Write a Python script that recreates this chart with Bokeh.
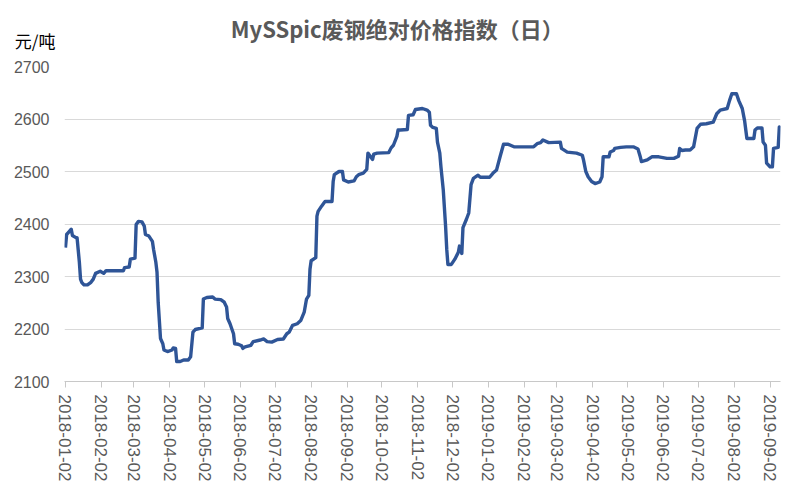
import pandas as pd
from bokeh.plotting import figure
from bokeh.layouts import column
from bokeh.models import Range1d, FixedTicker, DatetimeTickFormatter
from bokeh.core.properties import value
from bokeh.embed import file_html
from bokeh.resources import INLINE

# ---- data ----
start_date = "2018-01-02"
day_offsets = [0, 1, 3, 5, 6, 9, 10, 12, 13, 14, 16, 19, 22, 24, 26, 30, 33, 35, 42, 50,
               51, 55, 56, 60, 61, 63, 66, 68, 69, 72, 75, 76, 78, 79, 80, 82, 84, 85, 88, 92,
               93, 95, 96, 99, 102, 106, 108, 110, 112, 118, 119, 122, 127, 129, 134, 137, 139, 140, 142, 145,
               146, 149, 152, 153, 155, 160, 162, 168, 171, 174, 178, 183, 188, 191, 193, 196, 200, 203, 206, 208,
               210, 211, 212, 216, 217, 218, 221, 223, 224, 230, 231, 232, 236, 239, 240, 244, 249, 251, 253, 257,
               260, 261, 263, 265, 266, 269, 279, 281, 283, 286, 287, 289, 295, 296, 300, 302, 308, 312, 314, 315,
               317, 320, 321, 323, 324, 326, 328, 329, 330, 333, 336, 339, 340, 342, 343, 346, 348, 350, 352, 356,
               358, 366, 369, 372, 375, 378, 382, 387, 404, 407, 410, 412, 417, 427, 428, 433, 441, 446, 447, 449,
               451, 454, 457, 461, 463, 464, 469, 470, 473, 474, 479, 484, 490, 494, 496, 497, 502, 506, 512, 519,
               525, 529, 530, 532, 535, 539, 542, 545, 548, 553, 559, 562, 565, 571, 573, 575, 579, 581, 584, 586,
               588, 594, 595, 597, 601, 602, 604, 605, 608, 610, 611, 615, 616, 617]
price = [2355, 2380, 2385, 2390, 2378, 2374, 2374, 2327, 2295, 2289, 2284, 2284, 2289, 2295, 2306, 2310, 2306, 2311, 2311, 2311,
         2317, 2318, 2333, 2335, 2399, 2405, 2404, 2396, 2380, 2377, 2367, 2352, 2327, 2308, 2251, 2182, 2172, 2160, 2157, 2160,
         2164, 2163, 2138, 2138, 2141, 2141, 2147, 2194, 2199, 2202, 2257, 2260, 2261, 2257, 2256, 2251, 2242, 2220, 2210, 2191,
         2172, 2171, 2168, 2163, 2166, 2169, 2176, 2179, 2181, 2176, 2175, 2180, 2181, 2191, 2194, 2207, 2210, 2216, 2232, 2257,
         2264, 2314, 2330, 2336, 2415, 2424, 2434, 2440, 2443, 2443, 2481, 2494, 2500, 2500, 2484, 2480, 2482, 2490, 2494, 2497,
         2504, 2535, 2529, 2523, 2533, 2535, 2536, 2545, 2550, 2567, 2579, 2579, 2580, 2607, 2608, 2618, 2620, 2617, 2613, 2588,
         2584, 2582, 2556, 2535, 2509, 2465, 2396, 2352, 2323, 2323, 2333, 2346, 2358, 2344, 2393, 2409, 2421, 2475, 2487, 2493,
         2489, 2489, 2497, 2503, 2528, 2552, 2552, 2547, 2547, 2553, 2555, 2560, 2555, 2556, 2544, 2537, 2535, 2531, 2522, 2500,
         2490, 2481, 2477, 2480, 2490, 2528, 2528, 2537, 2540, 2544, 2546, 2547, 2547, 2543, 2528, 2519, 2522, 2528, 2528, 2525,
         2525, 2529, 2544, 2540, 2541, 2541, 2547, 2582, 2590, 2591, 2594, 2610, 2617, 2620, 2635, 2648, 2648, 2635, 2620, 2597,
         2563, 2563, 2579, 2583, 2583, 2556, 2550, 2516, 2509, 2509, 2544, 2546, 2585, 2582]

tick_labels = ["2018-01-02", "2018-02-02", "2018-03-02", "2018-04-02", "2018-05-02", "2018-06-02",
               "2018-07-02", "2018-08-02", "2018-09-02", "2018-10-02", "2018-11-02", "2018-12-02",
               "2019-01-02", "2019-02-02", "2019-03-02", "2019-04-02", "2019-05-02", "2019-06-02",
               "2019-07-02", "2019-08-02", "2019-09-02"]
y_ticks = [2100, 2200, 2300, 2400, 2500, 2600, 2700]

title_text = "MySSpic废钢绝对价格指数（日）"
unit_text = "元/吨"

W = 784
HEAD_H = 58
MAIN_H = 426
LEFT, RIGHT = 64, 4

# ---- header: title (text glyph) and unit (left axis label) ----
head = figure(width=W, height=HEAD_H, output_backend="svg", toolbar_location=None, tools="",
              x_range=Range1d(LEFT, W - RIGHT), y_range=Range1d(HEAD_H, 0),
              min_border_left=LEFT, min_border_right=RIGHT, min_border_top=0, min_border_bottom=0,
              x_axis_type=None)
head.outline_line_color = None
head.xgrid.visible = False
head.ygrid.visible = False
head.text(x=[396.7], y=[27.5], text=[title_text], text_align="center", text_baseline="middle",
          text_font=value("Noto Sans CJK SC"), text_font_style="bold",
          text_font_size="22px", text_color="#595959")
ha = head.yaxis[0]
ha.ticker = FixedTicker(ticks=[40])
ha.major_label_overrides = {40: unit_text}
ha.axis_line_color = None
ha.major_tick_line_color = None
ha.minor_tick_line_color = None
ha.major_tick_out = 0
ha.major_tick_in = 0
ha.major_label_standoff = 9
ha.major_label_text_font = "Noto Sans CJK SC"
ha.major_label_text_font_size = "17px"
ha.major_label_text_color = "#000000"

# ---- main chart ----
dates = pd.Timestamp(start_date) + pd.to_timedelta(day_offsets, unit="D")
tick_ms = [pd.Timestamp(t).value // 10**6 for t in tick_labels]

p = figure(width=W, height=MAIN_H, x_axis_type="datetime", output_backend="svg",
           toolbar_location=None, tools="",
           x_range=Range1d(pd.Timestamp("2018-01-01 04:00"), pd.Timestamp("2019-09-11 00:00")),
           y_range=Range1d(2100, 2700),
           min_border_left=LEFT, min_border_right=RIGHT, min_border_top=8, min_border_bottom=101)
p.outline_line_color = None

p.line(dates, price, line_color="#2F5597", line_width=3.4, line_join="round")

xa = p.xaxis[0]
xa.ticker = FixedTicker(ticks=tick_ms)
xa.formatter = DatetimeTickFormatter(days="%Y-%m-%d", months="%Y-%m-%d", years="%Y-%m-%d",
                                     hours="%Y-%m-%d", minutes="%Y-%m-%d")
xa.major_label_orientation = "vertical"
xa.axis_line_color = "#c8c8c8"
xa.major_tick_line_color = "#c8c8c8"
xa.major_tick_out = 6
xa.major_tick_in = 0
xa.minor_tick_out = 0
xa.minor_tick_in = 0
xa.major_label_standoff = 7
xa.major_label_text_font = "Liberation Sans"
xa.major_label_text_font_size = "17px"
xa.major_label_text_color = "#595959"

ya = p.yaxis[0]
ya.ticker = FixedTicker(ticks=y_ticks)
ya.axis_line_color = None
ya.major_tick_line_color = None
ya.minor_tick_line_color = None
ya.major_tick_out = 0
ya.major_tick_in = 0
ya.major_label_standoff = 15
ya.major_label_text_font = "Liberation Sans"
ya.major_label_text_font_size = "16px"
ya.major_label_text_color = "#595959"

p.xgrid.grid_line_color = None
p.ygrid.grid_line_color = "#d9d9d9"
p.ygrid.grid_line_width = 1

layout = column(head, p, spacing=0)
open("out.html", "w").write(file_html(layout, INLINE))
